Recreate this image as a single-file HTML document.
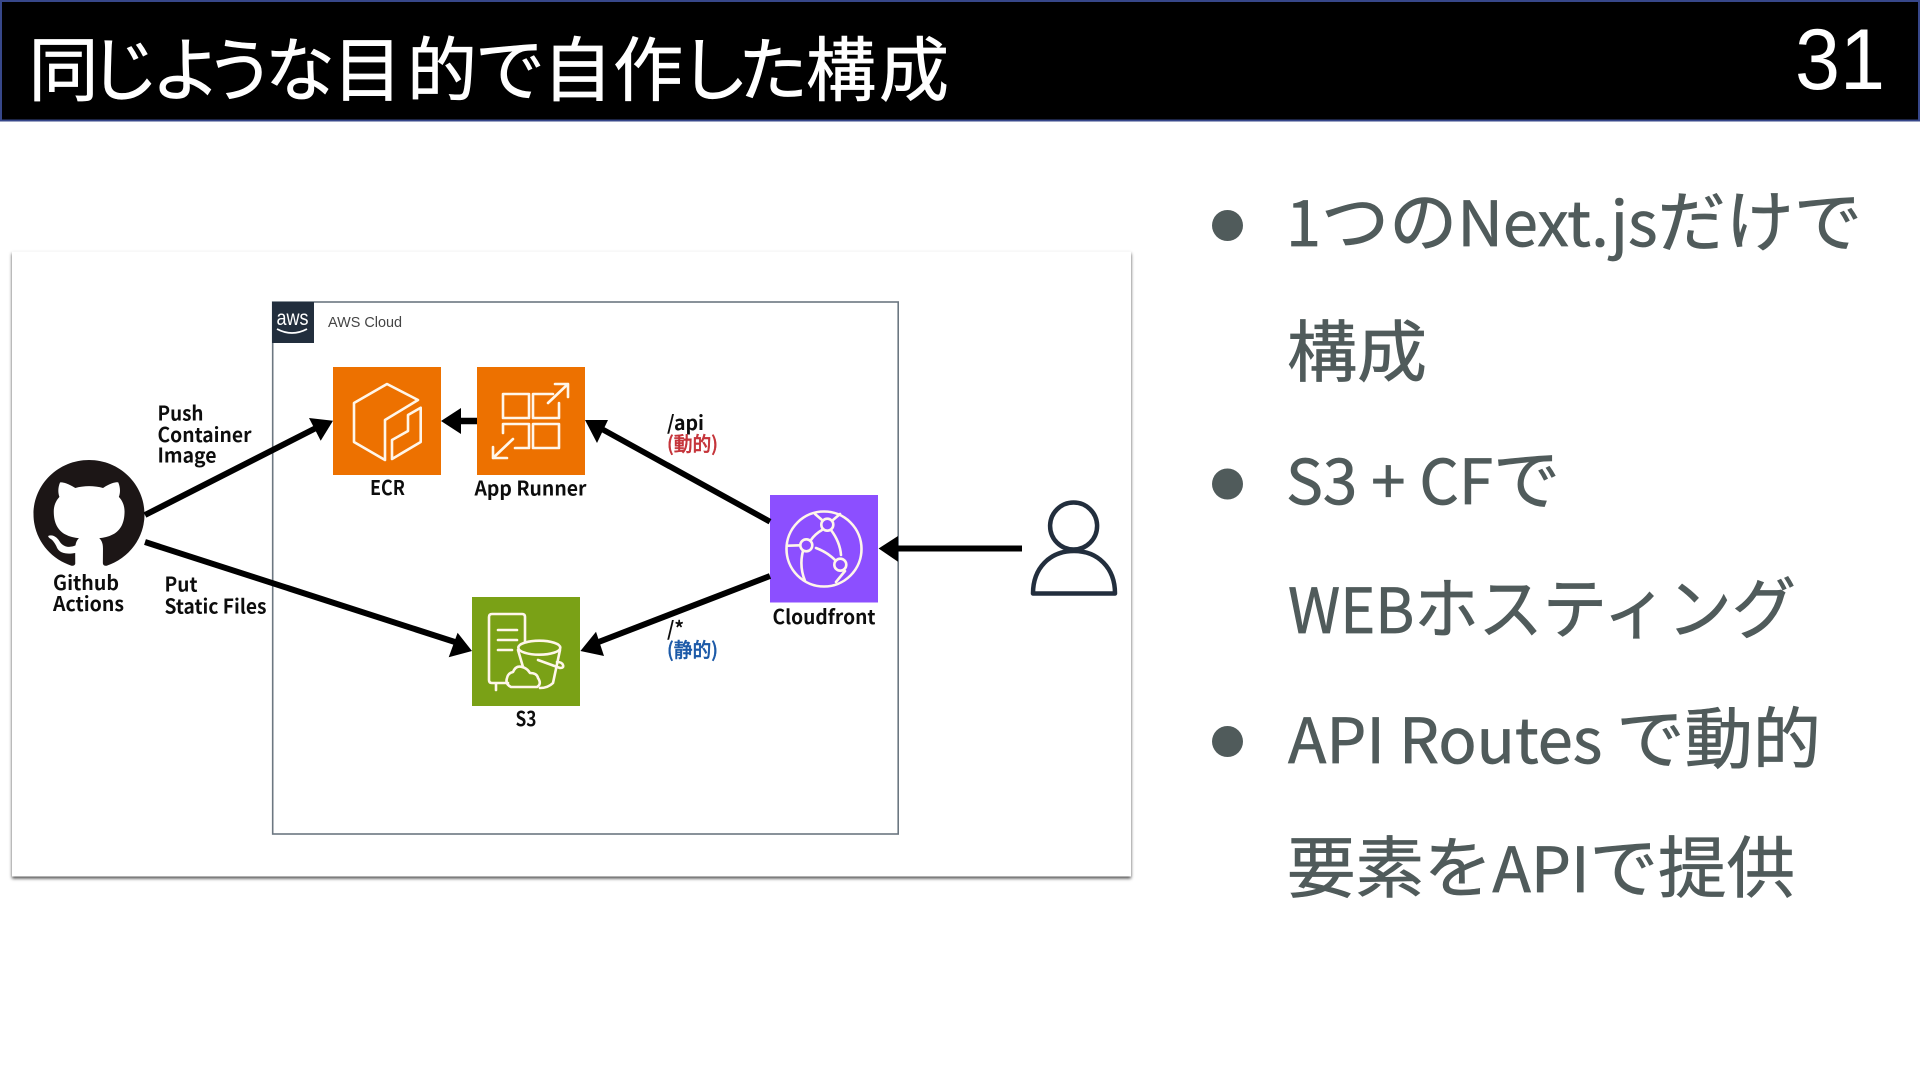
<!DOCTYPE html>
<html lang="ja">
<head>
<meta charset="utf-8">
<title>同じような目的で自作した構成</title>
<style>
html,body{margin:0;padding:0;background:#fff;width:1920px;height:1080px;overflow:hidden}
svg{display:block}
.jp{font-family:"Noto Sans CJK JP","Liberation Sans",sans-serif}
.lb{font-family:"Noto Sans CJK JP","Liberation Sans",sans-serif;font-weight:700;font-size:20px;fill:#111}
.bl{font-family:"Noto Sans CJK JP","Liberation Sans",sans-serif;font-size:67px;fill:#505b5b;stroke:#505b5b;stroke-width:.7}
.bl tspan{font-size:62px}
.ic{fill:none;stroke:#fff6ea;stroke-width:2.6;stroke-linejoin:round;stroke-linecap:round}
</style>
</head>
<body>
<svg width="1920" height="1080" viewBox="0 0 1920 1080" xmlns="http://www.w3.org/2000/svg">
<defs>
<filter id="sh" x="-5%" y="-5%" width="110%" height="110%"><feDropShadow dx="0" dy="2" stdDeviation="1.500" flood-color="#000" flood-opacity=".7"/></filter>
<filter id="soft"><feGaussianBlur stdDeviation="0.35"/></filter>
</defs>
<!-- header -->
<rect x="0" y="0" width="1920" height="121" fill="#000"/>
<rect x="1" y="1" width="1918" height="119.500" fill="none" stroke="#37478a" stroke-width="2"/>
<text class="jp" x="28.500 89 151 205 265 332.500 407 475 542.500 613 679 738 806 879" y="95" font-size="70" fill="#fff" stroke="#fff" stroke-width=".7">同じような目的で自作した構成</text>
<text x="1795" y="89" font-family="'Liberation Sans',sans-serif" font-size="86" fill="#fff" textLength="90" lengthAdjust="spacingAndGlyphs">31</text>

<!-- card -->
<rect x="12" y="251.500" width="1119" height="625" fill="#fff" filter="url(#sh)"/>
<g filter="url(#soft)">
<!-- AWS frame -->
<rect x="272.700" y="302" width="625.500" height="532" fill="none" stroke="#6c7781" stroke-width="1.600"/>
<rect x="272" y="302" width="42" height="41" fill="#232f3e"/>
<text x="276.500" y="325" font-family="'Liberation Sans',sans-serif" font-size="21" fill="#fff" textLength="32" lengthAdjust="spacingAndGlyphs">aws</text>
<path d="M277 329Q292 337 307 329" fill="none" stroke="#fff" stroke-width="1.800"/>
<text x="328" y="327" font-family="'Liberation Sans',sans-serif" font-size="14.500" fill="#444" textLength="74" lengthAdjust="spacingAndGlyphs">AWS Cloud</text>

<!-- service tiles -->
<rect x="333" y="367" width="108" height="108" fill="#ed7100"/>
<rect x="477" y="367" width="108" height="108" fill="#ed7100"/>
<rect x="770" y="495" width="108" height="107.500" fill="#8c4fff"/>
<rect x="472" y="597" width="108" height="109" fill="#7aa116"/>

<!-- ECR icon -->
<path class="ic" d="M385 460L354 442V403L387 384L418 400L385 420Z"/>
<path class="ic" d="M420.700 407.700L408 415V431L392 440V459L420.700 442Z"/>
<!-- App Runner icon -->
<path class="ic" d="M503 394h26v24h-26zM533 418v-24h20M559 403v15h-26M503 433v-9h26v24h-14M533 424h26v24h-26z"/>
<path class="ic" d="M548 403L568 384M555 384h13v13M513 439L493 458M493 447v11h14"/>
<!-- Cloudfront icon -->
<circle class="ic" cx="824" cy="549" r="37.500"/>
<circle class="ic" cx="827.300" cy="524.700" r="6"/>
<circle class="ic" cx="806.300" cy="545.300" r="6"/>
<circle class="ic" cx="840.300" cy="564.700" r="6"/>
<path class="ic" d="M788 545.700L800 545.300M803 551Q799 566 805 581M811 540Q815 534 822 530M816 548Q827 552 835 560M831 530Q840 542 841 555M815 514L822 520M833 520L840 514M845 571L836 582"/>
<!-- S3 icon -->
<path class="ic" d="M508 683H492Q489 683 489 680V617Q489 614 492 614H522Q525 614 525 617V642M496 683V690M498 630H517M498 640H517M498 650H512"/>
<ellipse class="ic" cx="539.300" cy="647.700" rx="21" ry="7"/>
<path class="ic" d="M518 650L523 667M560 650L553 683Q548 688 540 688M538 660L560 668Q564 668 563 665Q562 662 557 662"/>
<path class="ic" d="M511 687Q505 684 507 678Q508 673 513 672Q516 665 522 667Q527 668 530 673Q537 673 538 678Q542 684 537 687Z"/>

<!-- GitHub -->
<g transform="translate(33.500 460) scale(6.940 6.780)">
<path fill="#1b1718" d="M8 0C3.580 0 0 3.580 0 8c0 3.540 2.290 6.530 5.470 7.590.4.070.55-.17.55-.38 0-.19-.01-.82-.01-1.490-2.010.37-2.530-.49-2.690-.94-.09-.23-.48-.94-.82-1.130-.28-.15-.68-.52-.01-.53.63-.01 1.080.58 1.230.82.72 1.210 1.870.87 2.330.66.070-.52.28-.87.51-1.070-1.780-.2-3.640-.89-3.640-3.950 0-.87.31-1.590.82-2.150-.08-.2-.36-1.020.08-2.120 0 0 .67-.21 2.200.82.64-.18 1.320-.27 2-.27.68 0 1.360.09 2 .27 1.530-1.040 2.200-.82 2.200-.82.44 1.100.16 1.920.08 2.120.51.56.82 1.270.82 2.150 0 3.070-1.870 3.750-3.650 3.950.29.25.54.73.54 1.480 0 1.070-.01 1.930-.01 2.200 0 .21.15.46.55.38A8.013 8.013 0 0016 8c0-4.420-3.580-8-8-8z"/>
</g>

<!-- connectors -->
<g stroke="#000" fill="none">
<path d="M145 515L316 428" stroke-width="6"/>
<path d="M145 542L458 643" stroke-width="6"/>
<path d="M477 421H458" stroke-width="6.500"/>
<path d="M770 521.700L600 428" stroke-width="5.800"/>
<path d="M770 576L596 643" stroke-width="6"/>
<path d="M1022 548.500H895" stroke-width="6"/>
</g>
<g fill="#000">
<polygon points="333,420.700 309,418 320.700,440.700"/>
<polygon points="472,651 457.600,632.700 448.700,657.300"/>
<polygon points="441,421 461,408 461,434"/>
<polygon points="585,420 608,420 597,443"/>
<polygon points="580.400,651 596,631.700 604,656"/>
<polygon points="878.600,548.500 898,536 898,561.700"/>
</g>

<!-- user -->
<circle cx="1073.600" cy="526" r="23.500" fill="none" stroke="#232f3e" stroke-width="4.500"/>
<path d="M1033 593.500C1033 568 1050 551 1074 551C1098 551 1115 568 1115 593.500Z" fill="none" stroke="#232f3e" stroke-width="4.500" stroke-linejoin="round"/>

<!-- labels -->
<text class="lb" x="157.500" y="420.500" textLength="46" lengthAdjust="spacingAndGlyphs">Push</text>
<text class="lb" x="157.500" y="442" textLength="94" lengthAdjust="spacingAndGlyphs">Container</text>
<text class="lb" x="157.500" y="462.500" textLength="59" lengthAdjust="spacingAndGlyphs">Image</text>
<text class="lb" x="370" y="495" textLength="35" lengthAdjust="spacingAndGlyphs">ECR</text>
<text class="lb" x="474.500" y="495.500" textLength="112" lengthAdjust="spacingAndGlyphs">App Runner</text>
<text class="lb" x="53" y="590" textLength="66" lengthAdjust="spacingAndGlyphs">Github</text>
<text class="lb" x="53" y="611" textLength="71" lengthAdjust="spacingAndGlyphs">Actions</text>
<text class="lb" x="164.500" y="591.500" textLength="33" lengthAdjust="spacingAndGlyphs">Put</text>
<text class="lb" x="164.500" y="613.500" textLength="102" lengthAdjust="spacingAndGlyphs">Static Files</text>
<text class="lb" x="667" y="430" textLength="37" lengthAdjust="spacingAndGlyphs">/api</text>
<text class="lb" style="fill:#c5343a;font-weight:500;stroke:#c5343a;stroke-width:.4" x="667" y="451" textLength="51" lengthAdjust="spacingAndGlyphs">(動的)</text>
<text class="lb" x="772.500" y="624" textLength="103" lengthAdjust="spacingAndGlyphs">Cloudfront</text>
<text class="lb" x="667" y="636" textLength="17" lengthAdjust="spacingAndGlyphs">/*</text>
<text class="lb" style="fill:#1c5aa8;font-weight:500;stroke:#1c5aa8;stroke-width:.4" x="667" y="657" textLength="51" lengthAdjust="spacingAndGlyphs">(静的)</text>
<text class="lb" x="515.500" y="726" textLength="21" lengthAdjust="spacingAndGlyphs">S3</text>
</g>

<!-- bullets -->
<ellipse cx="1227.500" cy="225.500" rx="15.500" ry="15.500" fill="#505b5b"/>
<ellipse cx="1227.500" cy="484" rx="15.500" ry="15.500" fill="#505b5b"/>
<ellipse cx="1227.500" cy="741.500" rx="15.500" ry="15.500" fill="#505b5b"/>
<text class="bl" x="1286" y="246" textLength="576" lengthAdjust="spacingAndGlyphs"><tspan>1</tspan>つの<tspan>Next.js</tspan>だけで</text>
<text class="bl" x="1287" y="376" textLength="140" lengthAdjust="spacingAndGlyphs">構成</text>
<text class="bl" x="1286" y="504" textLength="274" lengthAdjust="spacingAndGlyphs"><tspan>S3 + CF</tspan>で</text>
<text class="bl" x="1288" y="633" textLength="508" lengthAdjust="spacingAndGlyphs"><tspan>WEB</tspan>ホスティング</text>
<text class="bl" x="1288" y="763" textLength="533" lengthAdjust="spacingAndGlyphs"><tspan>API Routes </tspan>で動的</text>
<text class="bl" x="1287" y="892" textLength="508" lengthAdjust="spacingAndGlyphs">要素を<tspan>API</tspan>で提供</text>
</svg>
</body>
</html>
